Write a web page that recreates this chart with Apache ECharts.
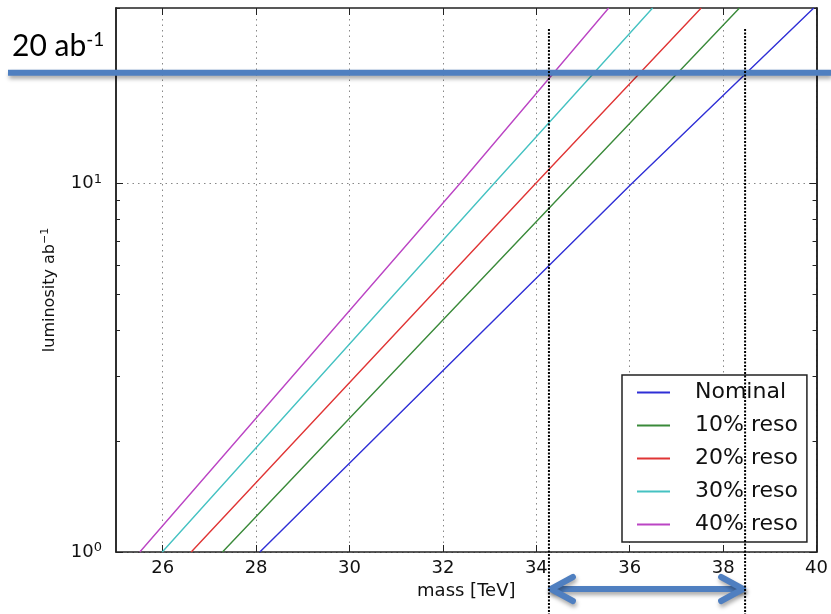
<!DOCTYPE html>
<html><head><meta charset="utf-8">
<script src="https://cdn.jsdelivr.net/npm/echarts@6/dist/echarts.min.js"></script>
<style>html,body{margin:0;padding:0;background:#fff}#c{width:831px;height:614px}</style>
</head><body><div id="c"></div>
<script>
const seriesNames = ['Nominal', '10% reso', '20% reso', '30% reso', '40% reso'];
const lumiLevels = [1, 10, 30];
const massNominal = [28.08, 36.04, 39.94];
const mass10 = [27.28, 34.77, 38.35];
const mass20 = [26.61, 33.98, 37.53];
const mass30 = [25.99, 33.09, 36.49];
const mass40 = [25.51, 32.36, 35.55];
const xTicks = [26, 28, 30, 32, 34, 36, 38, 40];
const yMajorTicks = [1, 10];
const yMinorTicks = [2, 3, 4, 5, 6, 7, 8, 9, 20, 30];
const targetLumi = 20;
const massRange = [34.27, 38.47];

const colors = ['#2f2fd6', '#3a8a3a', '#e03535', '#45c2c2', '#bb45c4'];
const FONT = 'DejaVu Sans';
const AX = '#222';

const chart = echarts.init(document.getElementById('c'), null, {renderer: 'canvas'});
const massSets = [massNominal, mass10, mass20, mass30, mass40];

const series = massSets.map((m, i) => ({
  name: seriesNames[i], type: 'line', xAxisIndex: 0, yAxisIndex: 0,
  data: m.map((v, j) => [v, lumiLevels[j]]),
  symbol: 'none', showSymbol: false, silent: true,
  lineStyle: {width: 1.4, color: colors[i]}, itemStyle: {color: colors[i]}
}));

function yAxisDef(pos, ticks, len, labels, split) {
  return {
    type: 'log', logBase: 10, min: 1, max: 30, position: pos,
    axisLine: {show: true, lineStyle: {color: AX, width: 1.5}},
    axisTick: {show: true, inside: true, length: len, customValues: ticks, lineStyle: {color: AX, width: 1}},
    axisLabel: labels ? {
      show: true, customValues: ticks, margin: 14, fontFamily: FONT,
      formatter: v => '{b|10}{s|' + Math.round(Math.log10(v)) + '}',
      rich: {b: {fontSize: 18, fontFamily: FONT, color: '#111'},
             s: {fontSize: 13, fontFamily: FONT, color: '#111', verticalAlign: 'bottom', padding: [0, 0, 9, 0]}}
    } : {show: false},
    splitLine: split ? {show: true, lineStyle: {color: '#888', type: [1.5, 4], width: 1}} : {show: false},
    minorTick: {show: false}, minorSplitLine: {show: false}
  };
}

const option = {
  animation: false,
  backgroundColor: '#fff',
  textStyle: {fontFamily: FONT},
  grid: {left: 116, right: 11, top: 8, bottom: 62, containLabel: false},
  xAxis: [
    {
      type: 'value', min: 25, max: 40, position: 'bottom',
      name: 'mass [TeV]', nameLocation: 'middle', nameGap: 27,
      nameTextStyle: {fontSize: 18, fontFamily: FONT, color: '#111'},
      axisLine: {show: true, onZero: false, lineStyle: {color: AX, width: 1.5}},
      axisTick: {show: true, inside: true, length: 7, customValues: xTicks, lineStyle: {color: AX, width: 1}},
      axisLabel: {show: true, customValues: xTicks, margin: 7, fontSize: 18, fontFamily: FONT, color: '#111'},
      splitLine: {show: true, lineStyle: {color: '#888', type: [1.5, 4], width: 1}}
    },
    {
      type: 'value', min: 25, max: 40, position: 'top',
      axisLine: {show: true, onZero: false, lineStyle: {color: AX, width: 1.5}},
      axisTick: {show: true, inside: true, length: 7, customValues: xTicks, lineStyle: {color: AX, width: 1}},
      axisLabel: {show: false}, splitLine: {show: false}
    }
  ],
  yAxis: [
    Object.assign(yAxisDef('left', yMajorTicks, 7, true, true), {
      name: 'luminosity ab{s|\u22121}', nameLocation: 'middle', nameGap: 57,
      nameTextStyle: {fontSize: 16, fontFamily: FONT, color: '#111', padding: [0, 20, 0, 0],
        rich: {s: {fontSize: 11, fontFamily: FONT, color: '#111', verticalAlign: 'bottom', padding: [0, 0, 8, 0]}}}
    }),
    yAxisDef('left', yMinorTicks, 4, false, false),
    yAxisDef('right', yMajorTicks, 7, false, false),
    yAxisDef('right', yMinorTicks, 4, false, false)
  ],
  legend: {
    orient: 'vertical', left: 622, top: 375,
    data: seriesNames, icon: 'rect', itemWidth: 33, itemHeight: 2, itemGap: 0,
    padding: [1, 9, 1, 15], backgroundColor: '#fff', borderColor: '#222', borderWidth: 1.5, borderRadius: 0,
    selectedMode: false,
    textStyle: {fontSize: 22, lineHeight: 33, fontFamily: FONT, color: '#111', padding: [0, 0, 0, 20]}
  },
  series: series
};
chart.setOption(option);

const px = (x, y) => chart.convertToPixel({xAxisIndex: 0, yAxisIndex: 0}, [x, y]);
const yT = px(30, targetLumi)[1];
const xa = px(massRange[0], 1)[0];
const xb = px(massRange[1], 1)[0];
const yArrow = 589;
const blue = '#4f7fc0';
const shadow = {shadowBlur: 4, shadowOffsetY: 3, shadowOffsetX: 1, shadowColor: 'rgba(0,0,0,0.35)'};
const arrowStyle = Object.assign({stroke: blue, lineWidth: 6, lineCap: 'round', lineJoin: 'round', fill: null}, shadow);

chart.setOption({
  graphic: [
    {type: 'line', z: 100, shape: {x1: 8, y1: yT, x2: 831, y2: yT},
     style: Object.assign({stroke: blue, lineWidth: 6}, shadow)},
    {type: 'text', z: 100, x: 12, y: 30,
     style: {text: '20 ab{s|-1}', fill: '#000', fontSize: 30, fontFamily: 'Lato',
       rich: {s: {fontSize: 19, fontFamily: 'Lato', fill: '#000', verticalAlign: 'bottom', padding: [0, 0, 13, 0]}}}},
    {type: 'line', z: 101, shape: {x1: xa, y1: 29, x2: xa, y2: 614},
     style: {stroke: '#000', lineWidth: 2, lineDash: [2, 1.5]}},
    {type: 'line', z: 101, shape: {x1: xb, y1: 29, x2: xb, y2: 614},
     style: {stroke: '#000', lineWidth: 2, lineDash: [2, 1.5]}},
    {type: 'line', z: 99, shape: {x1: xa + 3, y1: yArrow, x2: xb - 3, y2: yArrow}, style: arrowStyle},
    {type: 'polyline', z: 99, shape: {points: [[xa + 24, yArrow - 12], [xa + 2, yArrow], [xa + 24, yArrow + 12]]}, style: arrowStyle},
    {type: 'polyline', z: 99, shape: {points: [[xb - 24, yArrow - 12], [xb - 2, yArrow], [xb - 24, yArrow + 12]]}, style: arrowStyle}
  ]
});
</script>
</body></html>
